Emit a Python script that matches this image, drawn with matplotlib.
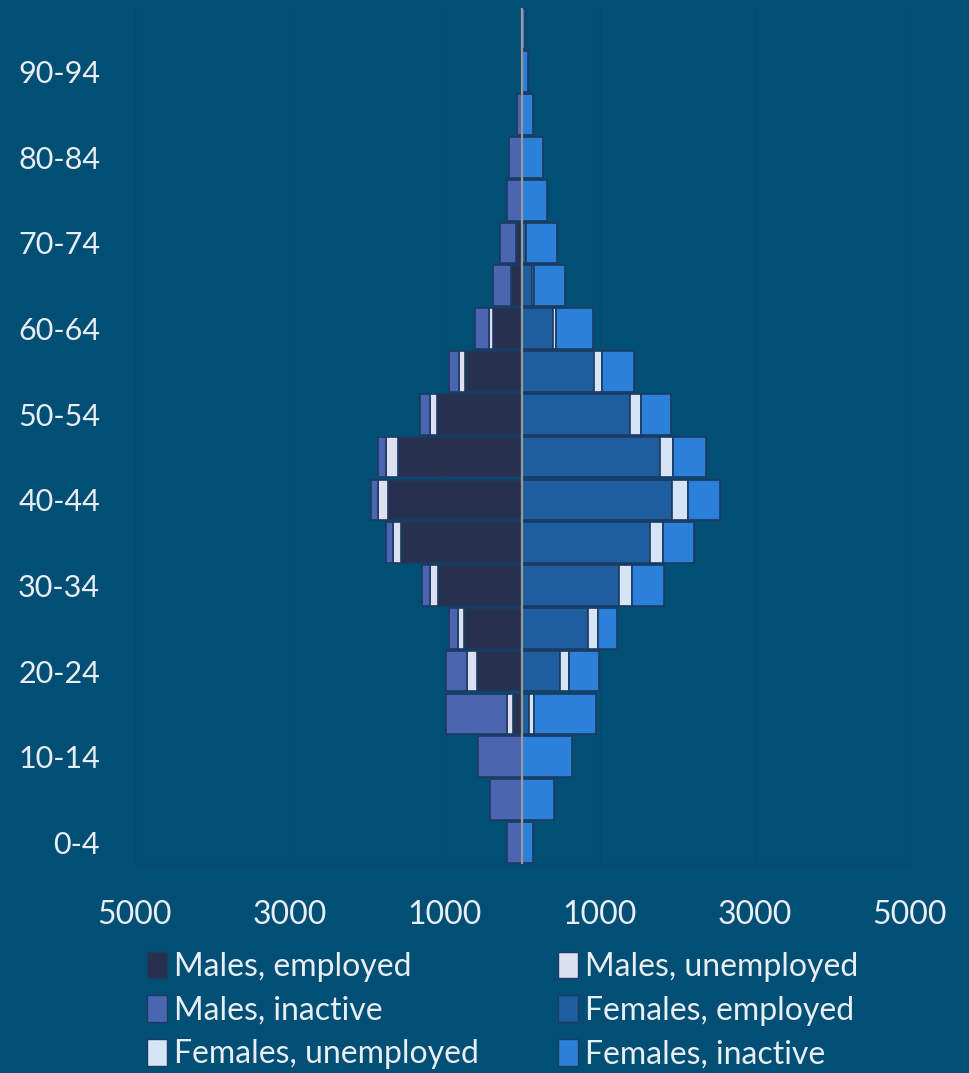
import numpy as np
import matplotlib
matplotlib.use("Agg")
import matplotlib.pyplot as plt
from matplotlib.patches import Patch

plt.rcParams["font.family"] = ["Lato", "DejaVu Sans"]

ages = ["0-4", "5-9", "10-14", "15-19", "20-24", "25-29", "30-34", "35-39", "40-44", "45-49",
        "50-54", "55-59", "60-64", "65-69", "70-74", "75-79", "80-84", "85-89", "90-94", "95+"]

m_emp = [0, 0, 0, 116, 585, 757, 1084, 1565, 1738, 1609, 1106, 735, 383, 142, 81, 0, 0, 0, 0, 0]
m_unemp = [0, 0, 0, 81, 134, 77, 107, 99, 120, 150, 85, 77, 43, 10, 0, 0, 0, 0, 0, 0]
m_inact = [198, 413, 568, 787, 266, 107, 103, 94, 94, 108, 125, 129, 185, 228, 202, 198, 177, 65, 17, 5]
f_emp = [0, 0, 0, 81, 486, 843, 1243, 1652, 1932, 1781, 1390, 929, 391, 125, 48, 0, 0, 0, 0, 0]
f_unemp = [0, 0, 0, 74, 120, 138, 173, 159, 210, 159, 142, 94, 44, 20, 0, 0, 0, 0, 0, 0]
f_inact = [138, 404, 641, 796, 387, 236, 417, 409, 413, 435, 387, 413, 472, 400, 400, 318, 271, 142, 73, 30]

xticks = [-5000, -3000, -1000, 1000, 3000, 5000]

bg = "#014f74"
txt = "#e8eef3"
edge = "#1d3a62"
grid = "#07496b"
c_memp = "#26304f"
c_munemp = "#dce0f0"
c_minact = "#4a66b0"
c_femp = "#1e5e9e"
c_funemp = "#d5e5f5"
c_finact = "#2b80d9"

m_emp = np.array(m_emp)
m_unemp = np.array(m_unemp)
m_inact = np.array(m_inact)
f_emp = np.array(f_emp)
f_unemp = np.array(f_unemp)
f_inact = np.array(f_inact)
y = np.arange(len(ages))

fig = plt.figure(figsize=(9.7, 10.73), dpi=100, facecolor=bg)
ax = fig.add_axes([0.139, 0.195, 0.799, 0.798], facecolor=bg)

h = 0.95
kw = dict(height=h, edgecolor=edge, linewidth=1.2, zorder=3)
ax.barh(y, -m_emp, color=c_memp, **kw)
ax.barh(y, -m_unemp, left=-m_emp, color=c_munemp, **kw)
ax.barh(y, -m_inact, left=-(m_emp + m_unemp), color=c_minact, **kw)
ax.barh(y, f_emp, color=c_femp, **kw)
ax.barh(y, f_unemp, left=f_emp, color=c_funemp, **kw)
ax.barh(y, f_inact, left=f_emp + f_unemp, color=c_finact, **kw)

ax.axvline(0, color="#9a9a9a", linewidth=1.6, zorder=5)

ax.set_xlim(-5000, 5000)
ax.set_ylim(-0.5, 19.5)
ax.set_xticks(xticks)
ax.set_xticklabels([str(abs(v)) for v in xticks])
ax.set_yticks(y[::2])
ax.set_yticklabels(ages[::2])
ax.tick_params(axis="both", length=0, colors=txt)
ax.tick_params(axis="x", labelsize=23, pad=26)
ax.tick_params(axis="y", labelsize=22, pad=25)

for v in xticks:
    ax.axvline(v, color=grid, linewidth=1, zorder=1)

for s in ["top", "left", "right"]:
    ax.spines[s].set_visible(False)
ax.spines["bottom"].set_color(grid)

handles = [
    Patch(facecolor=c_memp, edgecolor=edge, label="Males, employed"),
    Patch(facecolor=c_minact, edgecolor=edge, label="Males, inactive"),
    Patch(facecolor=c_funemp, edgecolor=edge, label="Females, unemployed"),
    Patch(facecolor=c_munemp, edgecolor=edge, label="Males, unemployed"),
    Patch(facecolor=c_femp, edgecolor=edge, label="Females, employed"),
    Patch(facecolor=c_finact, edgecolor=edge, label="Females, inactive"),
]
leg = fig.legend(handles=handles, ncol=2, loc="upper left", bbox_to_anchor=(0.152, 0.113),
                 frameon=False, fontsize=23, labelcolor=txt, handlelength=0.62, handleheight=0.9,
                 handletextpad=0.2, labelspacing=0.42, columnspacing=2.5, borderaxespad=0,
                 borderpad=0)

fig.savefig("out.png", dpi=100, facecolor=bg)
